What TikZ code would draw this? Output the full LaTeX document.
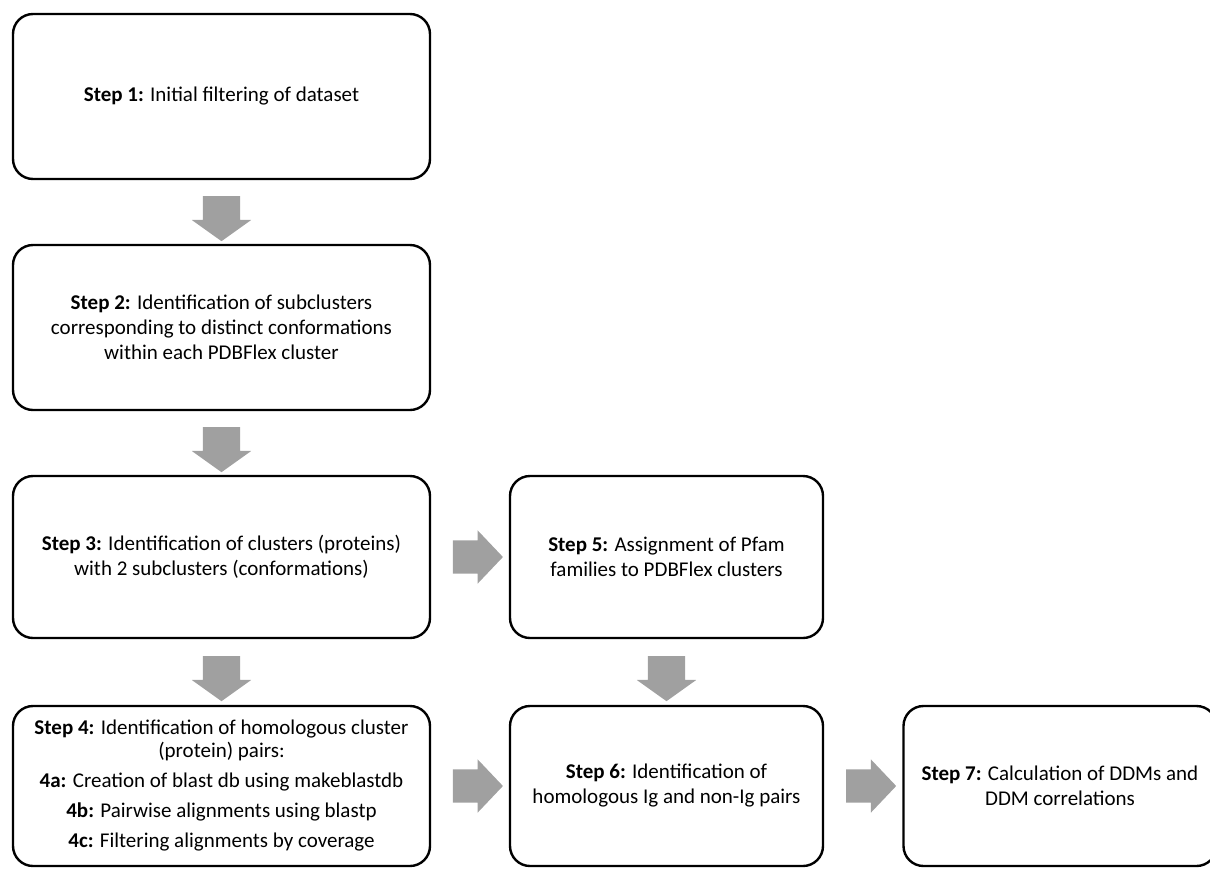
\documentclass[tikz,border=0pt]{standalone}
\usepackage{fontspec}
\setmainfont{Carlito}
\usetikzlibrary{shapes.arrows,calc,positioning}
\definecolor{arrowgray}{RGB}{160,160,160}

\begin{document}
\begin{tikzpicture}[x=1pt,y=-1pt,
	stepbox/.style={draw=black,line width=2.4pt,rounded corners=20pt,align=center,
		inner sep=0pt,font=\fontsize{21}{25}\selectfont},
	widebox/.style={stepbox,minimum width=417pt,minimum height=165pt},
	narrowbox/.style={stepbox,minimum width=313pt,minimum height=162pt},
	blockarrow/.style={single arrow,fill=arrowgray,draw=none,inner xsep=0pt,
		single arrow head extend=11pt,minimum height=45pt},
	downarrow/.style={blockarrow,rotate=-90,inner ysep=18.5pt,single arrow tip angle=109},
	rightarrow/.style={blockarrow,inner ysep=16.5pt,minimum height=50pt,
		single arrow head extend=10pt,single arrow tip angle=93}
	]
	\useasboundingbox (0,0) rectangle (1210,868);
	% boxes of the pipeline
	\node[widebox] (s1) at (221.5,96.5) {\textbf{Step 1:} Initial filtering of dataset};
	\node[widebox] (s2) at (221.5,327.5) {\textbf{Step 2:} Identification of subclusters\\
		corresponding to distinct conformations\\ within each PDBFlex cluster};
	\node[widebox,minimum height=162pt] (s3) at (221.5,557) {\textbf{Step 3:} Identification of clusters (proteins)\\
		with 2 subclusters (conformations)};
	\node[widebox,minimum height=160pt] (s4) at (221.5,786) {\textbf{Step 4:} Identification of homologous cluster\\[-2pt]
		(protein) pairs:\\[5pt]
		\textbf{4a:} Creation of blast db using makeblastdb\\[5pt]
		\textbf{4b:} Pairwise alignments using blastp\\[5pt]
		\textbf{4c:} Filtering alignments by coverage};
	\node[narrowbox] (s5) at (666.5,557) {\textbf{Step 5:} Assignment of Pfam\\ families to PDBFlex clusters};
	\node[narrowbox,minimum height=160pt] (s6) at (666.5,786) {\textbf{Step 6:} Identification of\\
		homologous Ig and non-Ig pairs};
	\node[narrowbox,minimum height=160pt] (s7) at (1060,786) {\textbf{Step 7:} Calculation of DDMs and\\
		DDM correlations};
	% block arrows between the boxes
	\node[downarrow] (a12) at ($(s1.south)!0.5!(s2.north)$) {};
	\node[downarrow] (a23) at ($(s2.south)!0.5!(s3.north)$) {};
	\node[downarrow] (a34) at ($(s3.south)!0.5!(s4.north)$) {};
	\node[downarrow] (a56) at ($(s5.south)!0.5!(s6.north)$) {};
	\node[rightarrow] (a35) at ($(s3.east)!0.5!(s5.west)$) {};
	\node[rightarrow] (a46) at ($(s4.east)!0.5!(s6.west)$) {};
	\node[rightarrow] (a67) at ($(s6.east)!0.5!(s7.west)$) {};
\end{tikzpicture}
\end{document}
